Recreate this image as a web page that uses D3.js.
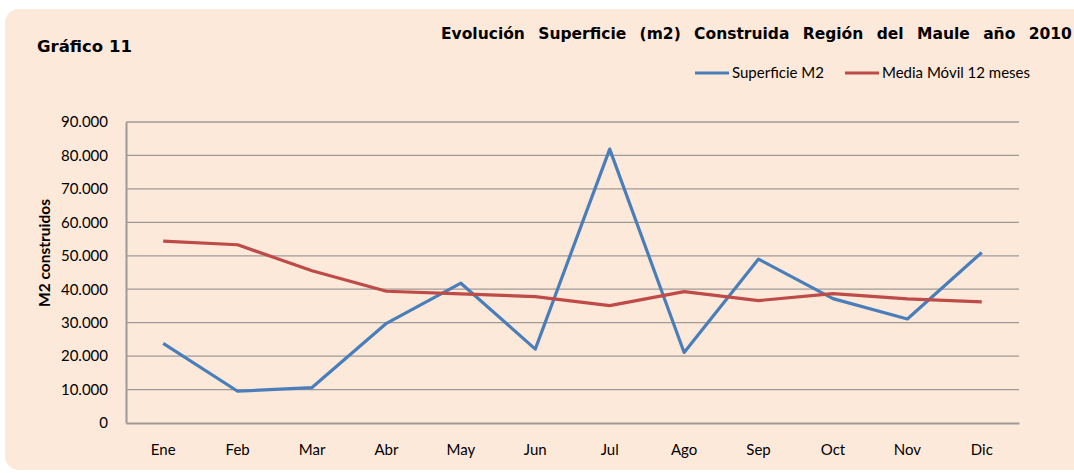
<!DOCTYPE html>
<html>
<head>
<meta charset="utf-8">
<script src="https://cdn.jsdelivr.net/npm/d3@7"></script>
<style>
  body { margin: 0; background: #fff; }
  svg { display: block; }
</style>
</head>
<body>
<svg id="chart" width="1074" height="473"></svg>
<script>
// Superficie construida, Región del Maule 2010

var months = ['Ene', 'Feb', 'Mar', 'Abr', 'May', 'Jun', 'Jul', 'Ago', 'Sep', 'Oct', 'Nov', 'Dic'];
var superficie = [23800, 9500, 10600, 29800, 41800, 22100, 81900, 21100, 49000, 37200, 31100, 51000];
var mediaMovil = [54400, 53300, 45500, 39400, 38600, 37800, 35100, 39300, 36600, 38700, 37100, 36200];
var yTicks = [0, 10000, 20000, 30000, 40000, 50000, 60000, 70000, 80000, 90000];
var seriesNames = ['Superficie M2', 'Media Móvil 12 meses'];

var svg = d3.select('#chart');
var mLeft = 126, mRight = 1019, mTop = 122, mBottom = 423;
var labelFont = 'Lato, "Open Sans", sans-serif';

// peach panel
svg.append('rect')
  .attr('x', 5).attr('y', 9)
  .attr('width', 1100).attr('height', 461)
  .attr('rx', 14).attr('ry', 14)
  .attr('fill', '#fde9d9');

var x = d3.scaleBand().domain(months).range([mLeft, mRight]);
var y = d3.scaleLinear().domain([0, 90000]).range([mBottom, mTop]);

// gridlines
svg.append('g')
  .selectAll('line')
  .data(yTicks.slice(1))
  .enter()
  .append('line')
  .attr('x1', mLeft).attr('x2', mRight)
  .attr('y1', function(d){ return y(d); })
  .attr('y2', function(d){ return y(d); })
  .attr('stroke', '#9e9a96')
  .attr('stroke-width', 1.3);

// y axis
var yAxis = d3.axisLeft(y).tickValues(yTicks).tickSize(0).tickPadding(18)
  .tickFormat(function(d){ return d === 0 ? '0' : d3.format(',')(d).replace(/,/g, '.'); });
var gy = svg.append('g').attr('transform', 'translate(' + mLeft + ',0)').call(yAxis);
gy.select('.domain').attr('stroke', '#9e9a96').attr('stroke-width', 2);
gy.selectAll('text')
  .attr('font-family', labelFont)
  .attr('font-size', 15).attr('fill', '#000');

// x axis
var xAxis = d3.axisBottom(x).tickSize(0).tickPadding(21);
var gx = svg.append('g').attr('transform', 'translate(0,' + mBottom + ')').call(xAxis);
gx.select('.domain').attr('stroke', '#9e9a96').attr('stroke-width', 2);
gx.selectAll('text')
  .attr('font-family', labelFont)
  .attr('font-size', 15).attr('fill', '#000');

// lines
var line = d3.line()
  .x(function(d, i){ return x(months[i]) + x.bandwidth() / 2; })
  .y(function(d){ return y(d); });

svg.append('path')
  .datum(superficie)
  .attr('d', line)
  .attr('fill', 'none')
  .attr('stroke', '#4a7ebb')
  .attr('stroke-width', 3.2)
  .attr('stroke-linejoin', 'round');

svg.append('path')
  .datum(mediaMovil)
  .attr('d', line)
  .attr('fill', 'none')
  .attr('stroke', '#be4b48')
  .attr('stroke-width', 3.2)
  .attr('stroke-linejoin', 'round');

// titles
svg.append('text')
  .attr('x', 37).attr('y', 52)
  .attr('font-family', '"DejaVu Sans", Verdana, sans-serif')
  .attr('font-weight', 'bold').attr('font-size', 16.5)
  .text('Gráfico 11');

svg.append('text')
  .attr('x', 441).attr('y', 39)
  .attr('font-family', '"DejaVu Sans", Verdana, sans-serif')
  .attr('font-weight', 'bold').attr('font-size', 15.5)
  .attr('word-spacing', 8)
  .text('Evolución Superficie (m2) Construida Región del Maule año 2010');

svg.append('text')
  .attr('transform', 'translate(50,253) rotate(-90)')
  .attr('text-anchor', 'middle')
  .attr('font-family', labelFont)
  .attr('font-weight', 'bold').attr('font-size', 15.5)
  .text('M2 construidos');

// legend
var legend = [
  { name: seriesNames[0], color: '#4a7ebb', x: 695 },
  { name: seriesNames[1], color: '#be4b48', x: 845 }
];
var lg = svg.append('g').selectAll('g').data(legend).enter().append('g');
lg.append('line')
  .attr('x1', function(d){ return d.x; })
  .attr('x2', function(d){ return d.x + 34; })
  .attr('y1', 73).attr('y2', 73)
  .attr('stroke', function(d){ return d.color; })
  .attr('stroke-width', 3);
lg.append('text')
  .attr('x', function(d){ return d.x + 37; })
  .attr('y', 78)
  .attr('font-family', labelFont)
  .attr('font-size', 15)
  .text(function(d){ return d.name; });
</script>
</body>
</html>
